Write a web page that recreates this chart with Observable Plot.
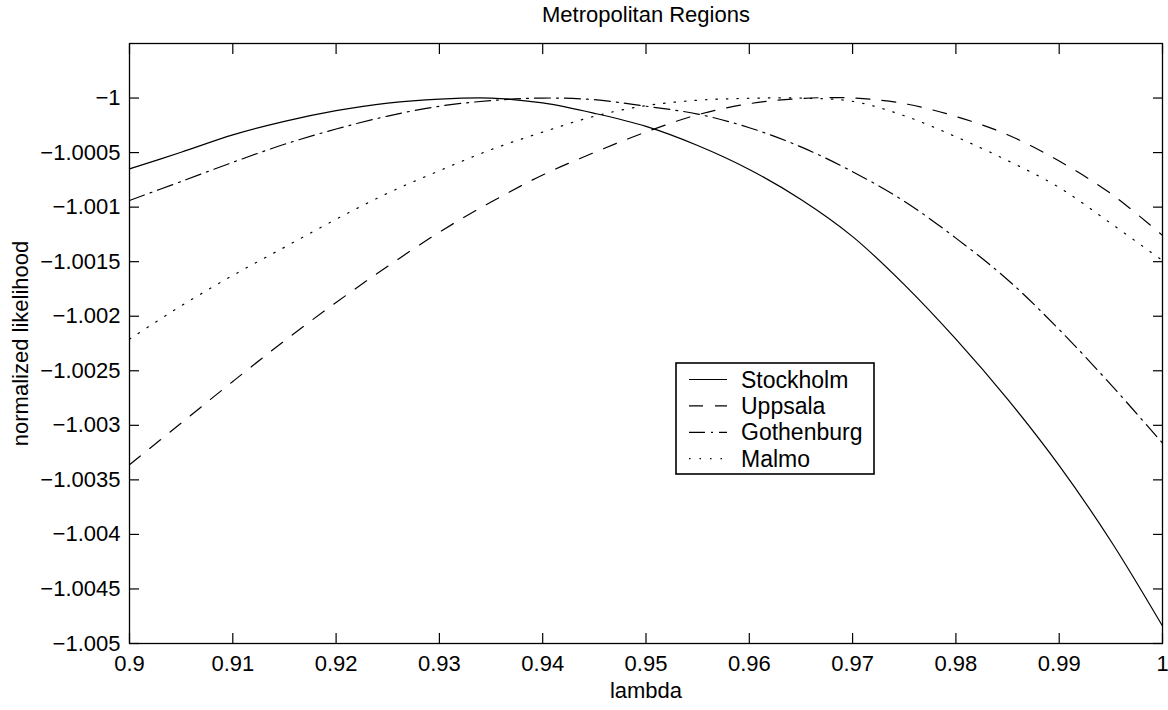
<!DOCTYPE html>
<html>
<head>
<meta charset="utf-8">
<script src="https://cdn.jsdelivr.net/npm/d3@7"></script>
<script src="https://cdn.jsdelivr.net/npm/@observablehq/plot@0.6"></script>
<style>
  html, body { margin: 0; padding: 0; background: #fff; }
  #chart { width: 1168px; height: 710px; }
</style>
</head>
<body>
<div id="chart"></div>
<script>
// ---- data ----
const lambda = [0.9, 0.905, 0.91, 0.915, 0.92, 0.925, 0.93, 0.935, 0.94, 0.945, 0.95,
                0.955, 0.96, 0.965, 0.97, 0.975, 0.98, 0.985, 0.99, 0.995, 1.0];
const stockholm = [-1.000649, -1.000497, -1.000338, -1.000214, -1.000116, -1.000046, -1.000009,
                   -1.0, -1.000045, -1.00014, -1.00026, -1.000435, -1.000655, -1.00093,
                   -1.00127, -1.00171, -1.00221, -1.00276, -1.00337, -1.00406, -1.00484];
const uppsala = [-1.003361, -1.00298, -1.002598, -1.002226, -1.001874, -1.001542, -1.001229,
                 -1.000953, -1.000705, -1.000499, -1.000311, -1.000153, -1.000052, -1.000004,
                 -1.0, -1.000051, -1.000169, -1.000336, -1.000578, -1.000876, -1.001259];
const gothenburg = [-1.000939, -1.000765, -1.000589, -1.000424, -1.000284, -1.000165, -1.000075,
                    -1.000023, -1.0, -1.000015, -1.000075, -1.000147, -1.000272, -1.000448,
                    -1.000675, -1.000946, -1.001284, -1.001665, -1.002122, -1.002627, -1.003163];
const malmo = [-1.00221, -1.001905, -1.001626, -1.001368, -1.001111, -1.000872, -1.000666,
               -1.000473, -1.000312, -1.000167, -1.00007, -1.00002, -1.000002, -1.0,
               -1.00003, -1.000162, -1.000355, -1.000573, -1.00082, -1.001149, -1.00149];
const seriesNames = ["Stockholm", "Uppsala", "Gothenburg", "Malmo"];
const xTicks = [0.9, 0.91, 0.92, 0.93, 0.94, 0.95, 0.96, 0.97, 0.98, 0.99, 1.0];
const xTickLabels = ["0.9", "0.91", "0.92", "0.93", "0.94", "0.95", "0.96", "0.97", "0.98", "0.99", "1"];
const yTicks = [-1, -1.0005, -1.001, -1.0015, -1.002, -1.0025, -1.003, -1.0035, -1.004, -1.0045, -1.005];
const yTickLabels = ["\u22121", "\u22121.0005", "\u22121.001", "\u22121.0015", "\u22121.002", "\u22121.0025",
                     "\u22121.003", "\u22121.0035", "\u22121.004", "\u22121.0045", "\u22121.005"];
const titleText = "Metropolitan Regions";
const xLabel = "lambda";
const yLabel = "normalized likelihood";

// ---- build ----
const seriesValues = [stockholm, uppsala, gothenburg, malmo];
const dashes = [null, "14,12", "16,6,2,6", "1.5,9"];
const rows = s => lambda.map((x, i) => ({x, y: seriesValues[s][i]}));
const fontFamily = "'Liberation Sans', Arial, Helvetica, sans-serif";

const chart = Plot.plot({
  width: 1168,
  height: 710,
  marginLeft: 129,
  marginRight: 6,
  marginTop: 43,
  marginBottom: 67,
  style: {fontFamily, fontSize: "22px", background: "#fff", color: "#000", overflow: "visible"},
  x: {domain: [0.9, 1.0]},
  y: {domain: [-1.005, -0.9995]},
  marks: [
    // lines
    ...seriesNames.map((n, s) => Plot.line(rows(s), {
      x: "x", y: "y", stroke: "#000", strokeWidth: 1.2, curve: "catmull-rom",
      strokeDasharray: dashes[s]
    })),
    // inward ticks on four sides
    Plot.axisX(xTicks, {anchor: "bottom", tickSize: -10, fill: "none", label: null, strokeWidth: 1.2}),
    Plot.axisX(xTicks, {anchor: "top", tickSize: -10, fill: "none", label: null, strokeWidth: 1.2}),
    Plot.axisY(yTicks, {anchor: "left", tickSize: -10, fill: "none", label: null, strokeWidth: 1.2}),
    Plot.axisY(yTicks, {anchor: "right", tickSize: -10, fill: "none", label: null, strokeWidth: 1.2}),
    // tick labels
    Plot.axisX(xTicks, {anchor: "bottom", tickSize: 0, tickPadding: 12, label: null,
      tickFormat: d => xTickLabels[xTicks.indexOf(d)]}),
    Plot.axisY(yTicks, {anchor: "left", tickSize: 0, tickPadding: 9, label: null,
      tickFormat: d => yTickLabels[yTicks.indexOf(d)]}),
    Plot.frame({stroke: "#000", strokeWidth: 1.3}),
    // title and axis labels
    Plot.text([titleText], {frameAnchor: "top", lineAnchor: "middle", textAnchor: "middle",
      dy: -29, text: d => d, fill: "#000"}),
    Plot.text([xLabel], {frameAnchor: "bottom", lineAnchor: "middle", textAnchor: "middle",
      dy: 47, text: d => d, fill: "#000"}),
    Plot.text([yLabel], {frameAnchor: "left", lineAnchor: "middle", textAnchor: "middle",
      dx: -109, rotate: -90, text: d => d, fill: "#000"})
  ]
});

document.getElementById("chart").appendChild(chart);

// ---- legend (inside the axes, like the original) ----
const svg = d3.select(chart);
const lg = svg.append("g")
  .attr("font-family", fontFamily)
  .attr("font-size", "23px")
  .attr("text-anchor", "start");
lg.append("rect")
  .attr("x", 676).attr("y", 363).attr("width", 198).attr("height", 111)
  .attr("fill", "#fff").attr("stroke", "#000").attr("stroke-width", 1.6);
seriesNames.forEach((name, i) => {
  const cy = 379.5 + i * 26.4;
  lg.append("line")
    .attr("x1", 689).attr("x2", 727).attr("y1", cy).attr("y2", cy)
    .attr("stroke", "#000").attr("stroke-width", 1.2)
    .attr("stroke-dasharray", dashes[i]);
  lg.append("text")
    .attr("x", 741).attr("y", cy).attr("dy", "0.35em")
    .attr("text-anchor", "start")
    .attr("fill", "#000").text(name);
});
</script>
</body>
</html>
